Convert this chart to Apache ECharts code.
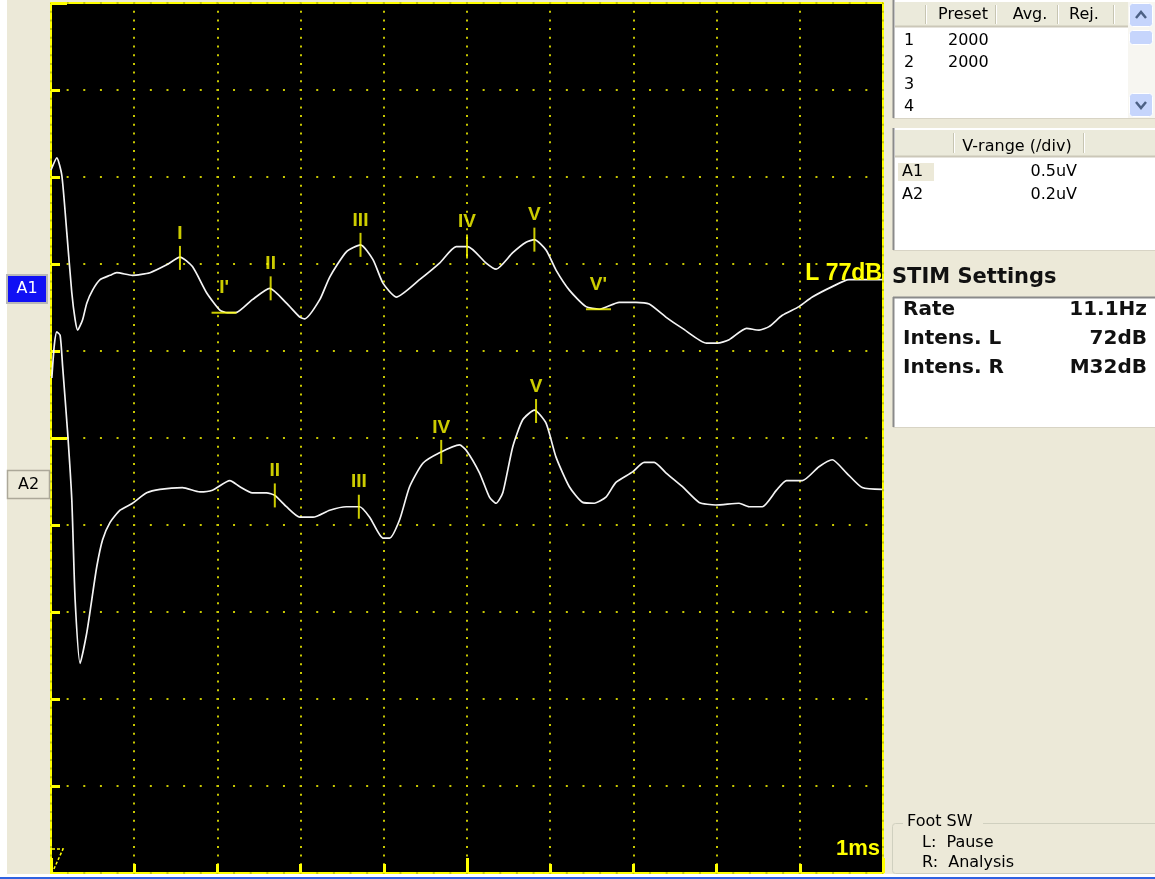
<!DOCTYPE html>
<html>
<head>
<meta charset="utf-8">
<title>ABR</title>
<script src="https://cdn.jsdelivr.net/npm/echarts@6/dist/echarts.min.js"></script>
<style>
  html, body { margin: 0; padding: 0; background: #ECE9D8; }
  #chart { width: 1155px; height: 879px; }
</style>
</head>
<body>
<div id="chart"></div>
<script>
// time in ms, amplitude in screen divisions (0 = bottom, 10 = top)
const a1Time = [0.00, 0.07, 0.13, 0.19, 0.25, 0.29, 0.32, 0.38, 0.43, 0.50, 0.59, 0.71, 0.79, 0.98, 1.19, 1.39, 1.55, 1.70, 1.87, 2.03, 2.12, 2.22, 2.42, 2.63, 2.83, 2.99, 3.05, 3.23, 3.35, 3.55, 3.72, 3.87, 3.99, 4.15, 4.43, 4.67, 4.87, 5.01, 5.23, 5.35, 5.55, 5.71, 5.81, 5.95, 6.07, 6.23, 6.43, 6.59, 6.83, 7.03, 7.19, 7.39, 7.59, 7.88, 8.01, 8.15, 8.36, 8.51, 8.63, 8.79, 8.99, 9.15, 9.39, 9.59, 9.99];
const a1Amp = [8.08, 8.22, 8.02, 7.36, 6.67, 6.36, 6.24, 6.36, 6.55, 6.70, 6.82, 6.87, 6.90, 6.87, 6.90, 6.99, 7.08, 6.97, 6.67, 6.47, 6.44, 6.44, 6.59, 6.72, 6.55, 6.39, 6.37, 6.59, 6.85, 7.14, 7.22, 7.05, 6.78, 6.62, 6.82, 7.01, 7.20, 7.20, 7.01, 6.94, 7.13, 7.25, 7.28, 7.16, 6.93, 6.70, 6.51, 6.48, 6.56, 6.56, 6.54, 6.39, 6.26, 6.09, 6.09, 6.13, 6.26, 6.24, 6.28, 6.41, 6.51, 6.62, 6.74, 6.82, 6.82];

const a2Time = [0.01, 0.04, 0.07, 0.11, 0.14, 0.20, 0.25, 0.29, 0.35, 0.43, 0.49, 0.55, 0.62, 0.71, 0.83, 0.98, 1.15, 1.31, 1.58, 1.79, 1.94, 2.15, 2.27, 2.42, 2.59, 2.69, 2.83, 2.99, 3.15, 3.35, 3.55, 3.71, 3.83, 3.99, 4.07, 4.19, 4.31, 4.47, 4.67, 4.91, 4.99, 5.15, 5.27, 5.35, 5.43, 5.55, 5.67, 5.81, 5.95, 6.07, 6.23, 6.39, 6.53, 6.67, 6.79, 6.99, 7.13, 7.25, 7.39, 7.59, 7.79, 7.99, 8.27, 8.39, 8.55, 8.72, 8.84, 9.03, 9.23, 9.39, 9.56, 9.75, 9.99];
const a2Amp = [5.69, 6.07, 6.22, 6.18, 5.82, 5.06, 4.29, 3.14, 2.41, 2.76, 3.14, 3.52, 3.83, 4.03, 4.17, 4.25, 4.37, 4.41, 4.43, 4.38, 4.40, 4.51, 4.44, 4.37, 4.37, 4.34, 4.21, 4.09, 4.09, 4.17, 4.21, 4.21, 4.09, 3.85, 3.85, 4.06, 4.44, 4.71, 4.83, 4.92, 4.86, 4.60, 4.32, 4.25, 4.37, 4.90, 5.21, 5.32, 5.17, 4.78, 4.44, 4.26, 4.25, 4.32, 4.49, 4.61, 4.72, 4.72, 4.60, 4.44, 4.26, 4.23, 4.25, 4.21, 4.21, 4.40, 4.51, 4.51, 4.67, 4.75, 4.60, 4.43, 4.41];

const a1PeakNames = ['I', 'II', 'III', 'IV', 'V'];
const a1PeakTime = [1.55, 2.64, 3.72, 5.00, 5.81];
const a1PeakAmp = [7.07, 6.72, 7.22, 7.20, 7.28];
const a1TroughNames = ["I'", "V'"];
const a1TroughTime = [2.08, 6.58];
const a1TroughAmp = [6.44, 6.48];
const a2PeakNames = ['II', 'III', 'IV', 'V'];
const a2PeakTime = [2.69, 3.70, 4.69, 5.83];
const a2PeakAmp = [4.34, 4.21, 4.84, 5.31];

const channelNames = ['A1', 'A2'];
const intensityLabel = 'L 77dB';
const timeScaleLabel = '1ms';

const presetHeaders = ['Preset', 'Avg.', 'Rej.'];
const presetRows = [['1', '2000'], ['2', '2000'], ['3', ''], ['4', '']];
const vRangeHeader = 'V-range (/div)';
const vRangeRows = [['A1', '0.5uV'], ['A2', '0.2uV']];
const stimTitle = 'STIM Settings';
const stimRows = [['Rate', '11.1Hz'], ['Intens. L', '72dB'], ['Intens. R', 'M32dB']];
const footTitle = 'Foot SW';
const footRows = ['L:  Pause', 'R:  Analysis'];

const YELLOW = '#ffff00';
const DOT = '#c8c800';
const PANEL = '#ECE9D8';
const UI_FONT = '"DejaVu Sans", sans-serif';
const MARK_FONT = '"Liberation Sans", Arial, sans-serif';

const zip = (xs, ys) => xs.map((x, i) => [x, ys[i]]);
const marks = (names, xs, ys) => names.map((n, i) => ({ name: n, value: [xs[i], ys[i]] }));

const txt = (x, y, text, opts = {}) => ({
  type: 'text', x, y, z: 20, silent: true,
  style: {
    text,
    fill: opts.fill || '#000',
    font: opts.font || `16px ${UI_FONT}`,
    align: opts.align || 'left',
    verticalAlign: 'middle'
  }
});
const rect = (x, y, w, h, style, r) => ({
  type: 'rect', z: 10, silent: true,
  shape: { x, y, width: w, height: h, r: r || 0 },
  style
});
const line = (x1, y1, x2, y2, stroke, lineWidth = 1) => ({
  type: 'line', z: 12, silent: true,
  shape: { x1, y1, x2, y2 },
  style: { stroke, lineWidth }
});

const buildPanel = () => {
  const g = [];
  // left strip + bottom edge
  g.push(rect(0, 0, 7, 879, { fill: '#ffffff' }));
  g.push(rect(0, 874, 1155, 3, { fill: '#ffffff' }));
  g.push(rect(0, 877, 1155, 2, { fill: '#2f62e0' }));

  // channel buttons
  g.push(rect(7, 275, 40, 28, { fill: '#1010f4', stroke: '#b8b8b8', lineWidth: 2 }));
  g.push(txt(27, 289, channelNames[0], { fill: '#ffffff', align: 'center' }));
  g.push(rect(7.5, 470.5, 42, 28, { fill: PANEL, stroke: '#aca899', lineWidth: 1.5 }));
  g.push(txt(28.5, 485, channelNames[1], { align: 'center' }));

  // preset table
  g.push(rect(893, 0, 262, 118, { fill: '#ffffff' }));
  g.push(rect(895, 2, 233, 25, { fill: '#EBEADB' }));
  g.push(line(895, 26.5, 1128, 26.5, '#CBC7B8', 2));
  [925, 995, 1057, 1113].forEach((x) => {
    g.push(line(x + 0.5, 5, x + 0.5, 24, '#C7C5B2'));
    g.push(line(x + 1.5, 5, x + 1.5, 24, '#ffffff'));
  });
  [963, 1030, 1084].forEach((cx, i) => g.push(txt(cx, 15, presetHeaders[i], { align: 'center' })));
  presetRows.forEach((row, i) => {
    const y = 41 + i * 22;
    g.push(txt(904, y, row[0]));
    if (row[1]) g.push(txt(948, y, row[1]));
  });
  // scrollbar
  g.push(rect(1128, 2, 27, 116, { fill: '#F7F6F1' }));
  g.push(rect(1129.5, 3.5, 23, 23, { fill: '#C6D5FC', stroke: '#ffffff', lineWidth: 1 }, 3));
  g.push(rect(1129.5, 30.5, 23, 14, { fill: '#C6D5FC', stroke: '#ffffff', lineWidth: 1 }, 3));
  g.push(rect(1129.5, 93.5, 23, 23, { fill: '#C6D5FC', stroke: '#ffffff', lineWidth: 1 }, 3));
  g.push({ type: 'polyline', z: 14, silent: true, shape: { points: [[1136, 18], [1141, 12], [1146, 18]] }, style: { stroke: '#4D6185', lineWidth: 2.5, fill: null } });
  g.push({ type: 'polyline', z: 14, silent: true, shape: { points: [[1136, 102], [1141, 108], [1146, 102]] }, style: { stroke: '#4D6185', lineWidth: 2.5, fill: null } });
  g.push(line(893.5, 0, 893.5, 118, '#8a8a8a', 2));
  g.push(line(893, 118.5, 1155, 118.5, '#D8D4C5'));

  // V-range table
  g.push(rect(893, 128, 262, 122, { fill: '#ffffff' }));
  g.push(rect(895, 130, 260, 27, { fill: '#EBEADB' }));
  g.push(line(895, 156.5, 1155, 156.5, '#CBC7B8', 2));
  [953, 1083].forEach((x) => {
    g.push(line(x + 0.5, 133, x + 0.5, 153, '#C7C5B2'));
    g.push(line(x + 1.5, 133, x + 1.5, 153, '#ffffff'));
  });
  g.push(txt(1017, 147, vRangeHeader, { align: 'center' }));
  g.push(rect(898, 163, 36, 18, { fill: PANEL }));
  vRangeRows.forEach((row, i) => {
    const y = 172 + i * 23;
    g.push(txt(902, y, row[0]));
    g.push(txt(1077, y, row[1], { align: 'right' }));
  });
  g.push(line(893.5, 128, 893.5, 250, '#8a8a8a', 2));
  g.push(line(893, 250.5, 1155, 250.5, '#D8D4C5'));

  // STIM settings
  g.push(txt(892, 278, stimTitle, { font: `bold 21px ${UI_FONT}`, fill: '#111' }));
  g.push(rect(893, 297, 262, 130, { fill: '#ffffff' }));
  g.push(line(893.5, 297, 893.5, 427, '#8a8a8a', 2));
  g.push(line(893, 297.5, 1155, 297.5, '#8a8a8a', 2));
  g.push(line(893, 427.5, 1155, 427.5, '#D8D4C5'));
  stimRows.forEach((row, i) => {
    const y = 310 + i * 29;
    g.push(txt(903, y, row[0], { font: `bold 20px ${UI_FONT}`, fill: '#111' }));
    g.push(txt(1147, y, row[1], { font: `bold 20px ${UI_FONT}`, fill: '#111', align: 'right' }));
  });

  // foot switch group
  g.push(rect(892.5, 823.5, 280, 50, { fill: null, stroke: '#D0D0BF', lineWidth: 1 }, 3));
  g.push(rect(903, 814, 80, 16, { fill: PANEL }));
  g.push(txt(907, 822, footTitle));
  footRows.forEach((t, i) => g.push(txt(922, 843 + i * 20, t)));

  // plot annotations
  g.push(txt(882, 274, intensityLabel, { font: `bold 23px ${MARK_FONT}`, fill: YELLOW, align: 'right' }));
  g.push(txt(880, 849, timeScaleLabel, { font: `bold 22px ${MARK_FONT}`, fill: YELLOW, align: 'right' }));
  g.push({
    type: 'polyline', z: 14, silent: true,
    shape: { points: [[52, 849], [63, 849], [53, 871]] },
    style: { stroke: YELLOW, lineWidth: 1.5, lineDash: [3, 2], fill: null }
  });
  return g;
};

const tickAxis = (position, interval, length, withSplit, splitDash) => ({
  type: 'value', position, offset: 0, min: 0, max: 10, interval,
  axisLine: { show: false, onZero: false },
  axisLabel: { show: false },
  axisTick: { show: true, inside: true, length, lineStyle: { color: YELLOW, width: 3 } },
  splitLine: withSplit
    ? { show: true, lineStyle: { color: DOT, width: 2, type: splitDash, dashOffset: 1 } }
    : { show: false }
});

const markLabel = (distance) => ({
  show: true, position: 'top', distance, formatter: '{b}',
  color: YELLOW, fontSize: 19, fontWeight: 'bold', fontFamily: MARK_FONT
});

const chart = echarts.init(document.getElementById('chart'));
chart.setOption({
  animation: false,
  backgroundColor: PANEL,
  grid: {
    left: 51, top: 3, width: 832, height: 870,
    show: true, backgroundColor: '#000000', borderColor: YELLOW, borderWidth: 2
  },
  xAxis: [tickAxis('bottom', 1, 9, true, [2, 6.7]), tickAxis('bottom', 5, 15, false)],
  yAxis: [tickAxis('left', 1, 9, true, [2, 14.64]), tickAxis('left', 5, 16, false)],
  graphic: buildPanel(),
  series: [
    {
      name: 'A1', type: 'line', data: zip(a1Time, a1Amp), showSymbol: false, smooth: 0.2,
      lineStyle: { color: '#f4f4f4', width: 1.7 }, z: 3
    },
    {
      name: 'A2', type: 'line', data: zip(a2Time, a2Amp), showSymbol: false, smooth: 0.2,
      lineStyle: { color: '#f4f4f4', width: 1.7 }, z: 3
    },
    {
      name: 'peaks', type: 'scatter', symbol: 'rect', symbolSize: [2, 24], z: 4,
      data: marks(a1PeakNames, a1PeakTime, a1PeakAmp).concat(marks(a2PeakNames, a2PeakTime, a2PeakAmp)),
      itemStyle: { color: YELLOW }, label: markLabel(3)
    },
    {
      name: 'troughs', type: 'scatter', symbol: 'rect', symbolSize: [25, 2], z: 4,
      data: marks(a1TroughNames, a1TroughTime, a1TroughAmp),
      itemStyle: { color: YELLOW }, label: markLabel(14)
    }
  ]
});
</script>
</body>
</html>
